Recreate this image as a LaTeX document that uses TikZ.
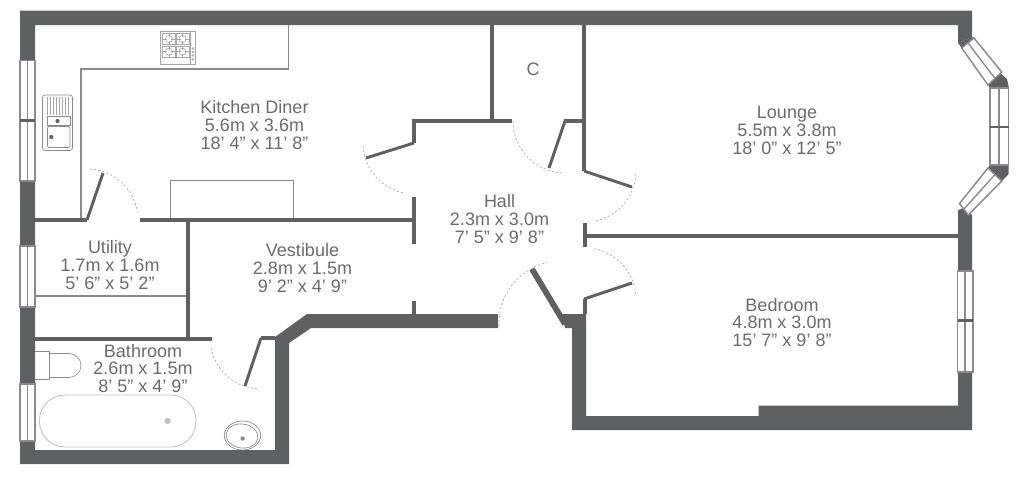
\documentclass[tikz,border=0pt]{standalone}
\usepackage{fontspec}
\setmainfont{Liberation Sans}
\definecolor{wallc}{HTML}{5F6062}
\definecolor{txtc}{HTML}{6A6B6D}
\definecolor{fitc}{HTML}{8A8B8D}
\definecolor{swingc}{HTML}{9A9B9D}
\definecolor{hobc}{HTML}{A6A7A9}
\definecolor{bathc}{HTML}{C4C4C4}
\tikzset{
  wall/.style={fill=wallc,draw=none},
  thin wall/.style={draw=wallc,line width=3pt},
  leaf/.style={draw=wallc,line width=2.2pt},
  swing/.style={draw=swingc,line width=0.4pt,dash pattern=on 1.7pt off 1.5pt},
  fitting/.style={draw=fitc,line width=0.9pt},
  finefit/.style={draw=fitc,line width=0.5pt},
  hob/.style={draw=hobc,line width=0.5pt},
  sanitary/.style={draw=bathc,line width=0.7pt},
  glass/.style={fill=white,draw=fitc,line width=1.1pt},
  room/.style={align=center,text=txtc,font=\fontsize{13.5}{13.4}\selectfont,inner sep=0pt}
}
\newcommand{\doorswing}[5]{\draw[swing] ({#1+#3*cos(#4)},{#2+#3*sin(#4)}) arc[start angle=#4,end angle=#5,radius=#3];}
\newcommand{\burner}[2]{%
  \draw[hob] (#1-6.5,#2-5.6) rectangle (#1+6.5,#2+5.6);
  \draw[hob] (#1,#2) circle[radius=3.6];
  \draw[hob] (#1-6,#2) -- (#1-2,#2) (#1+2,#2) -- (#1+6,#2) (#1,#2-5) -- (#1,#2-2) (#1,#2+2) -- (#1,#2+5);}
\begin{document}
\begin{tikzpicture}[x=0.75pt,y=-0.75pt]
\useasboundingbox (0,0) rectangle (1024,476);

% counters and fittings under the walls
\draw[fitting] (81,219) -- (81,69) -- (288.5,69) -- (288.5,25);
\draw[fitting] (170.5,218) -- (170.5,180.5) -- (293.5,180.5) -- (293.5,218);
\draw[fitting] (35,296) -- (186,296);

% outer walls
\fill[wall] (20,10.5) -- (972,10.5) -- (972,37) -- (958,43) -- (958,25) -- (35,25)
  -- (35,450) -- (275,450) -- (275,337) -- (307,314) -- (498,314) -- (498,328)
  -- (311,328) -- (289,343) -- (289,464) -- (20,464) -- cycle;
\fill[wall] (562,314) -- (586,314) -- (586,416) -- (758.5,416) -- (758.5,405.5) -- (958,405.5)
  -- (958,210) -- (964,208) -- (972,215) -- (972,430) -- (572,430) -- (572,328) -- (565,328) -- cycle;
\fill[wall] (958,43) -- (972,37) -- (974,38) -- (961.7,48) -- cycle;
\fill[wall] (988,85) -- (1000,73) -- (1007,79) -- (1009,88) -- (990,88) -- cycle;
\fill[wall] (990,165) -- (1008.7,165) -- (1008.7,174) -- (1001,182) -- (988,168) -- cycle;

% inner walls
\draw[thin wall] (35,220) -- (87,220) (140,220) -- (414,220);
\draw[thin wall] (188,220) -- (188,339);
\draw[thin wall] (35,339) -- (212,339);
\draw[thin wall] (261,338) -- (275,338);
\draw[thin wall] (414,197) -- (414,244);
\draw[thin wall] (414,301) -- (414,314);
\draw[thin wall] (414,143) -- (414,121) -- (512,121);
\draw[thin wall] (492,25) -- (492,121);
\draw[thin wall] (584,25) -- (584,171);
\draw[thin wall] (564,121) -- (584,121);
\draw[thin wall] (585,223) -- (585,247);
\draw[thin wall] (585,235.5) -- (958,235.5);
\draw[thin wall] (584.5,299) -- (584.5,314);

% door leaves
\draw[leaf] (87,220) -- (103,173);
\draw[leaf] (414,143) -- (366,158);
\draw[leaf] (565,121) -- (549,168);
\draw[leaf] (584,171) -- (632,187);
\draw[leaf] (584,299) -- (632,283);
\draw[leaf] (261,338) -- (245,386);
\draw[draw=wallc,line width=4.4pt] (532,269) -- (565,324);

% door swings
\doorswing{87}{220}{51}{-87}{-9}
\doorswing{414}{143}{51}{177}{102}
\doorswing{565}{121}{52}{180}{93}
\doorswing{585}{171}{51}{3.4}{80}
\doorswing{585}{299}{51}{-80}{-3.4}
\doorswing{561}{323}{62}{177}{257}
\doorswing{261}{338}{51}{169}{93}

% windows
\draw[glass] (20,60.5) rectangle (35,181);
\draw[fitc,line width=1pt] (27.5,60.5) -- (27.5,181);
\draw[wallc,line width=1.6pt] (20,120.5) -- (35,120.5);
\draw[glass] (20,246) rectangle (35,307);
\draw[fitc,line width=1pt] (27.5,246) -- (27.5,307);
\draw[glass] (20,384) rectangle (35,441);
\draw[fitc,line width=1pt] (27.5,384) -- (27.5,441);
\draw[glass] (957.5,271) rectangle (973,372);
\draw[fitc,line width=1pt] (965,271) -- (965,372);
\draw[wallc,line width=1.6pt] (957.5,320.5) -- (973,320.5);
\draw[glass] (990,88) rectangle (1008.7,165);
\draw[fitc,line width=1pt] (999,88) -- (999,165);
\draw[wallc,line width=1.6pt] (990,127) -- (1008.7,127);
\draw[glass] (961.7,48) -- (974,38) -- (1001.7,72) -- (988,85) -- cycle;
\draw[fitc,line width=1pt] (968,43) -- (995,78.5);
\draw[glass] (988,168) -- (1001.7,181) -- (968.3,215) -- (959.5,203.5) -- cycle;
\draw[fitc,line width=1pt] (995,174.5) -- (964,209);

% cooker
\draw[hob] (160.3,31.7) rectangle (195.7,64);
\draw[hob] (190,31.7) -- (190,64);
\burner{169}{39}
\burner{182.5}{39}
\burner{169}{51.7}
\burner{182.5}{51.7}
\foreach \ky in {48.5,52,55.5,59.5} \draw[hob] (193,\ky) circle[radius=1];

% sink
\draw[finefit,rounded corners=2pt] (42.5,95) rectangle (72.5,150.5);
\foreach \sx in {47,50,...,69} \draw[hob] (\sx,97) -- (\sx,115);
\draw[finefit] (47.5,116.5) rectangle (70,125);
\draw[finefit,rounded corners=1pt] (47.5,126.5) rectangle (70,147.5);
\fill[wallc] (57.5,121) circle[radius=2.1];
\fill[wallc] (51.3,137) circle[radius=2.1];

% toilet
\draw[finefit] (35,351) -- (49.5,351) -- (49.5,379.5) -- (35,379.5);
\draw[finefit] (49.5,353.5) -- (69,353.5) arc[start angle=-90,end angle=90,radius=12] -- (49.5,377.5);

% bath
\draw[sanitary,rounded corners=19pt] (39.5,395) rectangle (196,447);
\fill[bathc] (167.6,421) circle[radius=3.2];

% basin
\draw[finefit] (242.5,435.5) ellipse[x radius=18.2,y radius=14.5];
\draw[finefit,rotate around={-8:(242,436)}] (242,436) ellipse[x radius=16,y radius=12];
\fill[fitc] (242.6,438.5) circle[radius=2.2];

% labels
\node[room] (kitchen) at (254.5,125) {Kitchen Diner\\5.6m x 3.6m\\18’ 4” x 11’ 8”};
\node[room] (lounge) at (787,130.5) {Lounge\\5.5m x 3.8m\\18’ 0” x 12’ 5”};
\node[room] (closet) at (533,69) {C};
\node[room] (hall) at (499.5,219) {Hall\\2.3m x 3.0m\\7’ 5” x 9’ 8”};
\node[room] (utility) at (110,265) {Utility\\1.7m x 1.6m\\5’ 6” x 5’ 2”};
\node[room] (vestibule) at (302.5,268) {Vestibule\\2.8m x 1.5m\\9’ 2” x 4’ 9”};
\node[room] (bathroom) at (143,368.5) {Bathroom\\2.6m x 1.5m\\8’ 5” x 4’ 9”};
\node[room] (bedroom) at (782,322.5) {Bedroom\\4.8m x 3.0m\\15’ 7” x 9’ 8”};
\end{tikzpicture}
\end{document}
